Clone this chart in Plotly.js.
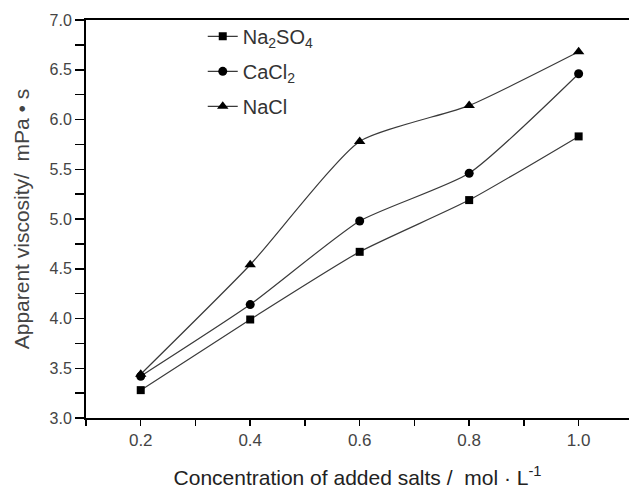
<!DOCTYPE html>
<html>
<head>
<meta charset="utf-8">
<script src="https://cdn.plot.ly/plotly-3.0.1.min.js"></script>
<style>html,body{margin:0;padding:0;background:#fff;}#chart{width:629px;height:493px;}</style>
</head>
<body>
<div id="chart"></div>
<script>
// Data
const concentration = [0.2, 0.4, 0.6, 0.8, 1.0];
const na2so4 = [3.28, 3.99, 4.67, 5.19, 5.83];
const cacl2 = [3.42, 4.14, 4.98, 5.46, 6.46];
const nacl = [3.44, 4.54, 5.78, 6.14, 6.68];
const seriesNames = ['Na<sub>2</sub>SO<sub>4</sub>', 'CaCl<sub>2</sub>', 'NaCl'];
const xTickVals = [0.2, 0.4, 0.6, 0.8, 1.0];
const xTickText = ['0.2', '0.4', '0.6', '0.8', '1.0'];
const yTickVals = [3.0, 3.5, 4.0, 4.5, 5.0, 5.5, 6.0, 6.5, 7.0];
const yTickText = ['3.0', '3.5', '4.0', '4.5', '5.0', '5.5', '6.0', '6.5', '7.0'];

const FONT = 'Liberation Sans, Arial, sans-serif';
const lineStyle = {color: '#3a3a3a', width: 1.2, shape: 'spline', smoothing: 0.55};

function mk(y, name, symbol, size, group) {
  return {
    x: concentration, y: y, name: name, type: 'scatter', mode: 'lines+markers',
    line: lineStyle, legendgroup: group,
    marker: {symbol: symbol, size: size, color: '#000'}
  };
}

const data = [
  mk(na2so4, seriesNames[0], 'square', 8, 'a'),
  mk(cacl2, seriesNames[1], 'circle', 9, 'b'),
  mk(nacl, seriesNames[2], 'triangle-up', 10, 'c')
];

const layout = {
  width: 629, height: 493,
  margin: {l: 86, r: 0, t: 20, b: 75},
  paper_bgcolor: '#fff', plot_bgcolor: '#fff',
  font: {family: FONT, color: '#222'},
  showlegend: true,
  legend: {
    x: 0.215, y: 1.008, xanchor: 'left', yanchor: 'top',
    bgcolor: 'rgba(0,0,0,0)', font: {size: 20, color: '#333', family: FONT},
    tracegroupgap: 6, itemwidth: 30
  },
  xaxis: {
    range: [0.1, 1.092], showgrid: false, zeroline: false,
    showline: true, linecolor: '#000', linewidth: 2, mirror: true,
    ticks: 'outside', ticklen: 6, tickwidth: 1.5, tickcolor: '#000',
    tickvals: xTickVals, ticktext: xTickText,
    tickfont: {size: 17, color: '#444', family: FONT},
    minor: {ticks: 'outside', ticklen: 6, tickwidth: 1.5, tickcolor: '#000', tick0: 0.1, dtick: 0.2, showgrid: false},
    title: {text: 'Concentration of added salts /  mol · L<sup>-1</sup>', font: {size: 21, color: '#222', family: FONT}, standoff: 21}
  },
  yaxis: {
    range: [3.0, 7.0], showgrid: false, zeroline: false,
    showline: true, linecolor: '#000', linewidth: 2, mirror: false,
    ticks: 'outside', ticklen: 9, tickwidth: 1.5, tickcolor: '#000',
    tickvals: yTickVals, ticktext: yTickText,
    tickfont: {size: 16, color: '#444', family: FONT},
    minor: {ticks: 'outside', ticklen: 9, tickwidth: 1.5, tickcolor: '#000', tick0: 3.25, dtick: 0.5, showgrid: false},
    title: {text: 'Apparent viscosity/  mPa • s', font: {size: 21, color: '#444', family: FONT}, standoff: 14}
  }
};

Plotly.newPlot('chart', data, layout, {staticPlot: true, displayModeBar: false});
</script>
</body>
</html>
